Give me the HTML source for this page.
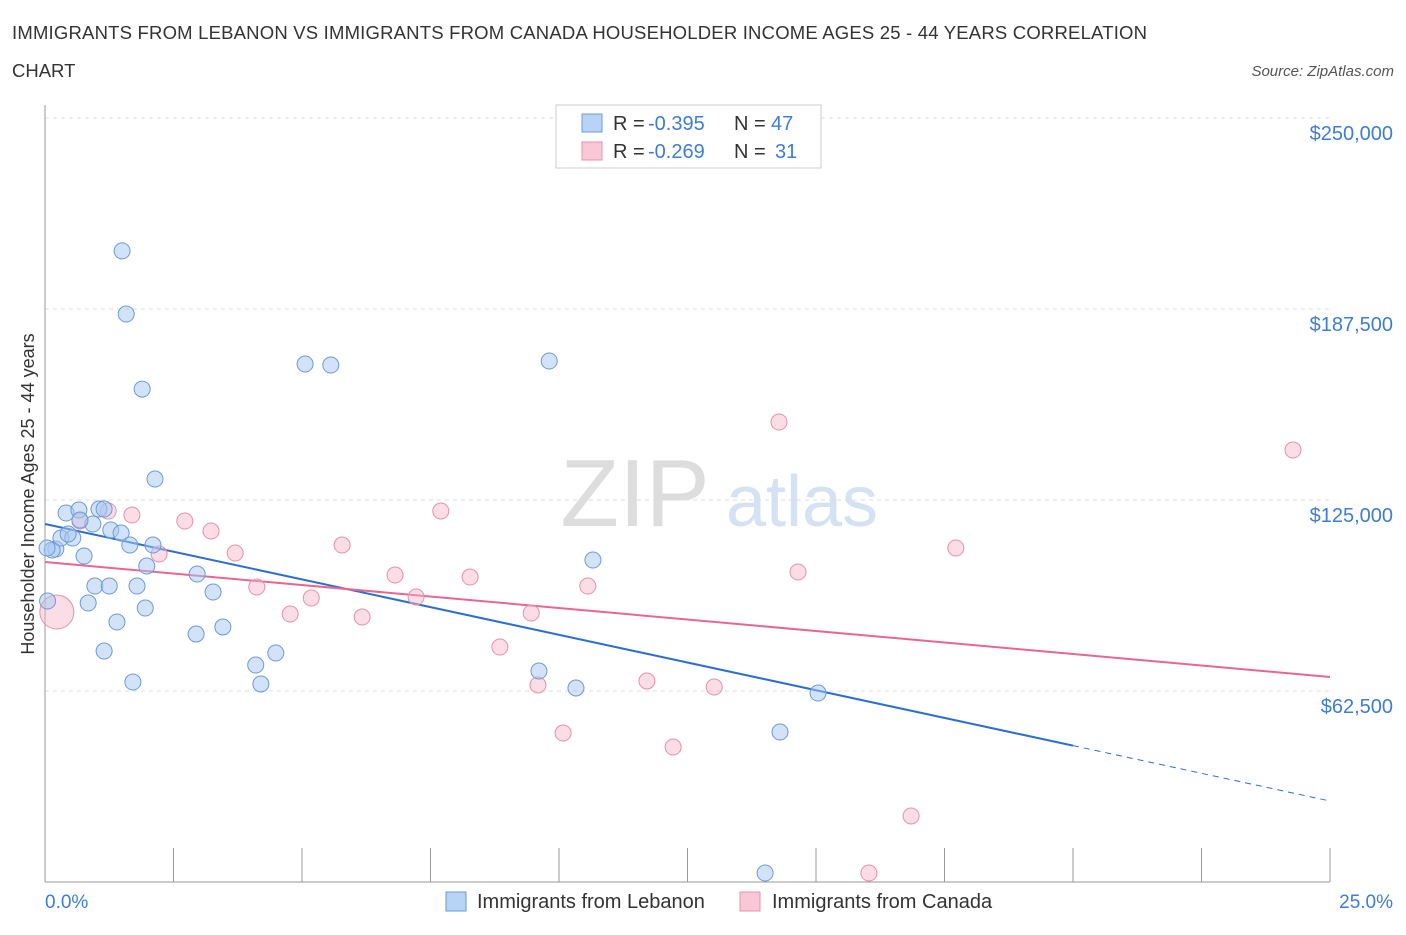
<!DOCTYPE html>
<html><head><meta charset="utf-8"><style>
body{margin:0;background:#fff;font-family:"Liberation Sans",sans-serif;}
svg text{font-family:"Liberation Sans",sans-serif;}
</style></head><body>
<svg id="c" width="1406" height="930">
<text x="12" y="39" font-size="18.5" fill="#333" textLength="1135">IMMIGRANTS FROM LEBANON VS IMMIGRANTS FROM CANADA HOUSEHOLDER INCOME AGES 25 - 44 YEARS CORRELATION</text>
<text x="12" y="77" font-size="18.5" fill="#333">CHART</text>
<text x="1394" y="76" font-size="15" fill="#555" font-style="italic" text-anchor="end">Source: ZipAtlas.com</text>
<g>
<text x="635" y="526" font-size="96" fill="#ddd" font-family="Liberation Serif" text-anchor="middle">ZIP</text>
<text x="802" y="526" font-size="72" fill="#d5e2f3" text-anchor="middle">atlas</text>
</g>
<g id="grid"></g><g id="axes"></g><g id="trends"></g><g id="pts"></g>
<text x="45" y="908" font-size="19" fill="#3d7dd8">0.0%</text>
<text x="1393" y="908" font-size="19" fill="#3d7dd8" text-anchor="end">25.0%</text>
<text transform="translate(34,494) rotate(-90)" font-size="18" fill="#333" text-anchor="middle">Householder Income Ages 25 - 44 years</text>
<g>
<rect x="556" y="105" width="265" height="63" fill="#fff" stroke="#ccc"/>
<rect x="582" y="114" width="20" height="18" fill="#b8d3f5" stroke="#6b9bd8"/>
<rect x="582" y="142" width="20" height="18" fill="#f8c8d6" stroke="#e890ab"/>
<text x="613" y="130" font-size="20" fill="#333">R = <tspan x="648" fill="#3d7dd8">-0.395</tspan><tspan x="734">N = </tspan><tspan x="771" fill="#3d7dd8">47</tspan></text>
<text x="613" y="158" font-size="20" fill="#333">R = <tspan x="648" fill="#3d7dd8">-0.269</tspan><tspan x="734">N = </tspan><tspan x="775" fill="#3d7dd8">31</tspan></text>
</g>
<g>
<rect x="446" y="892" width="20" height="19" fill="#b8d3f5" stroke="#6b9bd8"/>
<text x="477" y="908" font-size="20" fill="#333">Immigrants from Lebanon</text>
<rect x="740" y="892" width="20" height="19" fill="#f8c8d6" stroke="#e890ab"/>
<text x="772" y="908" font-size="20" fill="#333">Immigrants from Canada</text>
</g>
</svg>
<script>
const yTicks=[62500,125000,187500,250000];
const yTickLabels=["$62,500","$125,000","$187,500","$250,000"];
const blueX=[1.50,1.58,1.89,2.14,5.06,5.56,9.81,0.41,0.66,1.05,1.15,0.21,0.14,0.31,0.54,0.45,0.93,1.28,1.48,0.76,1.65,2.10,1.98,0.97,1.25,1.79,2.96,0.84,0.05,3.27,1.95,1.40,3.46,2.94,1.15,4.49,4.10,1.71,4.20,9.61,10.33,10.66,15.04,14.30,14.01,0.68,0.04];
const blueY=[206500,185850,161300,131860,169490,169160,170470,120740,121720,122050,122050,108960,108630,112560,112560,113870,117140,115170,114190,106670,110270,110270,103400,96850,96850,96850,100780,91290,91940,94890,89650,85070,83440,81150,75580,74930,71000,65440,64790,69040,63480,105360,61840,49080,2940,118450,109280];
const pinkX=[0.23,0.68,1.23,1.69,2.22,2.72,3.23,3.70,4.12,4.77,5.18,5.78,6.17,6.81,7.22,7.70,8.27,8.85,9.46,9.59,10.08,10.56,11.71,12.22,13.02,14.28,14.65,16.03,16.85,17.72,24.28];
const pinkY=[88340,118120,121390,120080,107320,118120,114850,107650,96520,87690,92920,110270,86710,100450,93250,121390,99800,76890,88020,64460,48750,96850,65770,44170,63800,150510,101430,2940,21600,109280,141350];
const pinkR=[17,8,8,8,8,8,8,8,8,8,8,8,8,8,8,8,8,8,8,8,8,8,8,8,8,8,8,8,8,8,8];
const blueTrend=[117140,26500];
const pinkTrend=[104700,67080];
const blueSolidEnd=20;
const X=v=>45+v/25*1285, Y=v=>882-v/62500*191;
const NS="http://www.w3.org/2000/svg";
function mk(p,t,a){const e=document.createElementNS(NS,t);for(const k in a)e.setAttribute(k,a[k]);p.appendChild(e);return e;}
const grid=document.getElementById('grid'),axes=document.getElementById('axes'),tr=document.getElementById('trends'),pts=document.getElementById('pts');
yTicks.forEach((t,i)=>{
 const l=mk(grid,'line',{x1:45,x2:1330,y1:Y(t),y2:Y(t),stroke:'#ddd','stroke-dasharray':'4,4'});
 
 
 const tx=mk(grid,'text',{x:1393,y:Y(t)+22,'font-size':20,fill:'#3d7dd8','text-anchor':'end'});
 tx.textContent=yTickLabels[i];
 
 
});
const xa=mk(axes,'line',{x1:45,x2:1330,y1:882,y2:882,stroke:'#999'});


const ya=mk(axes,'line',{x1:45,x2:45,y1:105,y2:882,stroke:'#999'});


for(let i=0;i<=10;i++){const v=i*2.5;const t=mk(axes,'line',{x1:X(v),x2:X(v),y1:848,y2:882,stroke:'#999'});
 
 }
const bAt=x=>blueTrend[0]+(blueTrend[1]-blueTrend[0])*x/25;
let l=mk(tr,'line',{x1:X(0),y1:Y(bAt(0)),x2:X(blueSolidEnd),y2:Y(bAt(blueSolidEnd)),stroke:'#2b6fd6','stroke-width':2});


l=mk(tr,'line',{x1:X(blueSolidEnd),y1:Y(bAt(blueSolidEnd)),x2:X(25),y2:Y(bAt(25)),stroke:'#2b6fd6','stroke-width':1,'stroke-dasharray':'6,5'});


l=mk(tr,'line',{x1:X(0),y1:Y(pinkTrend[0]),x2:X(25),y2:Y(pinkTrend[1]),stroke:'#e8668f','stroke-width':2});


pinkX.forEach((x,i)=>{const c=mk(pts,'circle',{cx:X(x),cy:Y(pinkY[i]),r:pinkR[i],fill:'rgba(246,180,200,0.45)',stroke:'#e890ab','stroke-width':1});
 
 });
blueX.forEach((x,i)=>{const c=mk(pts,'circle',{cx:X(x),cy:Y(blueY[i]),r:8,fill:'rgba(168,200,240,0.5)',stroke:'#6b9bd8','stroke-width':1});
 
 });
</script>
</body></html>
